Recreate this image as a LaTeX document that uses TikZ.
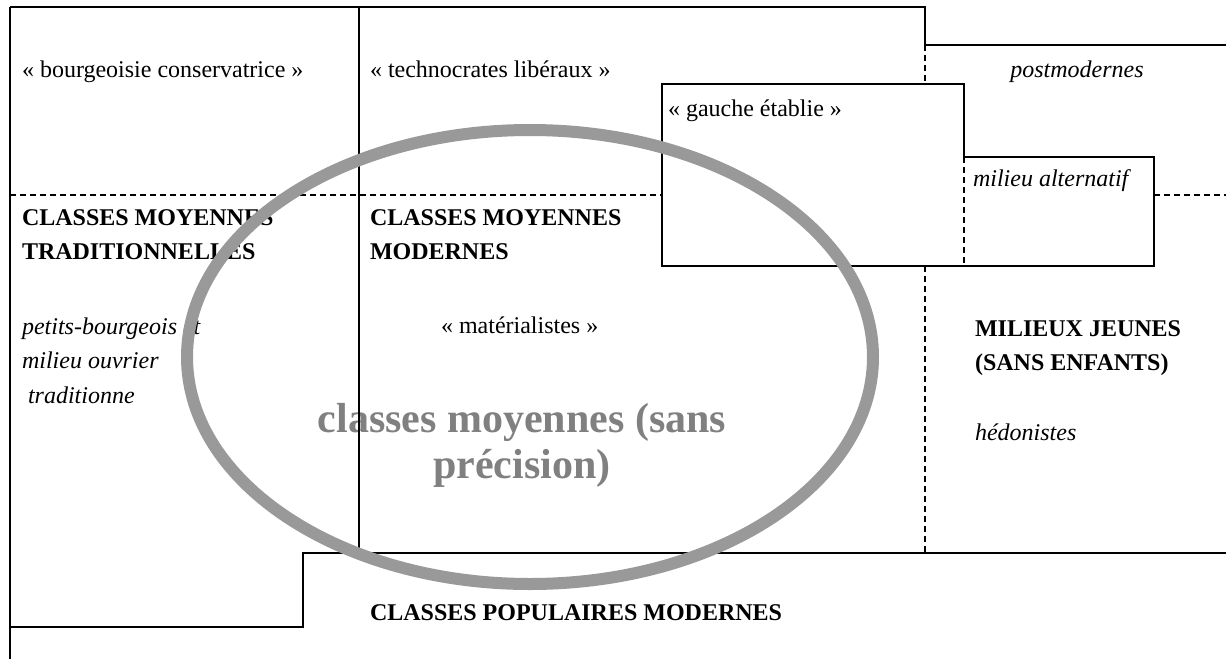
\documentclass[tikz,border=0pt]{standalone}
\usepackage{fontspec}
\setmainfont{Liberation Serif}
\definecolor{ellgray}{HTML}{999999}
\definecolor{txtgray}{HTML}{808080}
\tikzset{
  txt/.style={inner sep=0pt, outer sep=0pt, anchor=base west, font=\fontsize{24}{34.5}\selectfont},
  bigtxt/.style={inner sep=0pt, outer sep=0pt, anchor=base, text=txtgray, font=\fontsize{42}{46}\selectfont\bfseries},
  solidline/.style={line width=1.8pt, draw=black},
  thinline/.style={line width=1.3pt, draw=black},
  dashline/.style={line width=1.4pt, draw=black, dash pattern=on 6pt off 4pt},
  ellipseline/.style={line width=12pt, draw=ellgray},
}
\newcommand{\lines}[1]{\begin{tabular}[t]{@{}l@{}}#1\end{tabular}}
\begin{document}
\begin{tikzpicture}[x=1pt,y=-1pt]
\useasboundingbox (0,0) rectangle (1226,659);
\fill[white] (0,0) rectangle (1226,659);

% texts
\node[txt] (bourg) at (22,77) {« bourgeoisie conservatrice »};
\node[txt] (techno) at (370,77) {« technocrates libéraux »};
\node[txt, anchor=base] (postmod) at (1077,77) {\itshape postmodernes};
\node[txt] (gauche) at (668,116) {« gauche établie »};
\node[txt] (altern) at (973,186) {\itshape milieu alternatif};
\node[txt] (cmtrad) at (22,225) {\lines{\bfseries CLASSES MOYENNES\\ \bfseries TRADITIONNELLES}};
\node[txt] (cmmod) at (370,225) {\lines{\bfseries CLASSES MOYENNES\\ \bfseries MODERNES}};
\node[txt] (petits) at (22,334) {\lines{\itshape petits-bourgeois et\\ \itshape milieu ouvrier\\ \itshape\ traditionne}};
\node[txt] (mater) at (441,333) {« matérialistes »};
\node[txt] (jeunes) at (975,336) {\lines{\bfseries MILIEUX JEUNES\\ \bfseries (SANS ENFANTS)}};
\node[txt] (hedon) at (975,440) {\itshape hédonistes};
\node[txt] (cpm) at (370,620) {\bfseries CLASSES POPULAIRES MODERNES};
\node[bigtxt] (cmsp1) at (522,432) {classes moyennes (sans};
\node[bigtxt] (cmsp2) at (522,478) {précision)};

% frame lines
\coordinate (a1) at (10,659);
\coordinate (a2) at (10,7);
\coordinate (a3) at (925,7);
\coordinate (a4) at (925,45);
\coordinate (a5) at (1226,45);
\draw[solidline] (a2) -- (a3) -- (a4) -- (a5);
\draw[thinline] (a1) -- (a2);
\coordinate (v1) at (359,7);
\coordinate (v2) at (359,553);
\draw[thinline] (v1) -- (v2);
\coordinate (b1) at (10,627);
\coordinate (b2) at (303,627);
\coordinate (b3) at (303,553);
\coordinate (b4) at (1226,553);
\draw[solidline] (b1) -- (b2) -- (b3) -- (b4);

% dashed lines
\coordinate (d1) at (10,195);
\coordinate (d2) at (662,195);
\coordinate (d3) at (1154,195);
\coordinate (d4) at (1226,195);
\draw[dashline] (d1) -- (d2);
\draw[dashline] (d3) -- (d4);
\coordinate (e1) at (925,84);
\coordinate (e2) at (925,266);
\draw[dashline] (a4) -- (e1);
\draw[dashline] (e2) -- (925,553);
\coordinate (f1) at (964,157);
\coordinate (f2) at (964,266);
\draw[dashline] (f1) -- (f2);

% gauche / alternatif box
\draw[solidline] (662,84) -- (964,84) -- (f1) -- (1154,157) -- (1154,266) -- (662,266) -- cycle;

% ellipse
\draw[ellipseline] (530,357) ellipse [x radius=343, y radius=227];
\end{tikzpicture}
\end{document}
